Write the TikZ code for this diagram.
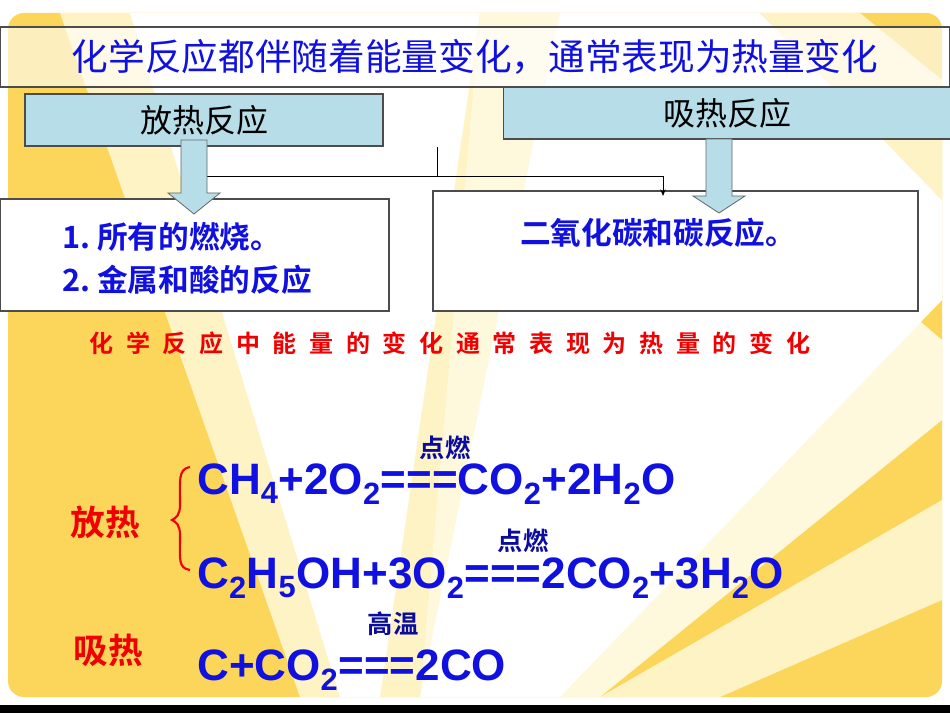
\documentclass[tikz,border=0pt]{standalone}
\usepackage{fontspec}
\setmainfont{Liberation Sans}
\newfontfamily\cjk{Noto Sans CJK SC}
\newfontfamily\cjkb{Noto Sans CJK SC Bold}
\usetikzlibrary{arrows.meta}
\definecolor{ybg}{HTML}{FBD65A}
\definecolor{ylt}{HTML}{FEF3C4}
\definecolor{cyanbox}{HTML}{B7DDE8}
\definecolor{eqblue}{HTML}{1010E0}
\definecolor{redt}{HTML}{F00000}
\begin{document}
\begin{tikzpicture}[x=0.75pt,y=-0.75pt,
  hbox/.style={draw=black!70,fill=cyanbox,line width=0.8pt},
  wbox/.style={draw=black!70,fill=white,line width=0.8pt},
  blockarrow/.style={draw=black!60,fill=cyanbox,line width=0.6pt},
  eq/.style={anchor=base west,text=eqblue,font=\bfseries\fontsize{33}{35}\selectfont,inner sep=0pt},
  cond/.style={text=eqblue!70!black,font=\cjkb\fontsize{19}{20}\selectfont,inner sep=0pt},
  redlab/.style={text=redt,font=\cjkb\fontsize{26}{27}\selectfont,inner sep=0pt}]
\useasboundingbox (0,0) rectangle (950,713);
\fill[white] (0,0) rectangle (950,713);
\fill[black] (0,705) rectangle (950,713);
% yellow panel with rays
\fill[ybg,rounded corners=12pt] (8,13) rectangle (942,697);
\fill[ylt] (60,13) -- (500,13) -- (420,697) -- (300,697) -- cycle;
\fill[white] (130,13) -- (480,13) -- (380,697) -- (340,697) -- cycle;
\fill[ylt!60!white] (480,13) -- (560,13) -- (942,340) -- (942,420) -- (600,697) -- (420,697) -- cycle;
\fill[white] (560,13) -- (760,13) -- (942,200) -- (942,300) -- (560,697) -- (420,697) -- cycle;
\fill[ylt] (760,13) -- (860,13) -- (942,80) -- (942,200) -- cycle;
\fill[ylt] (942,500) -- (942,600) -- (720,697) -- (600,697) -- cycle;
% top box
\node[draw=black!70,fill=white,fill opacity=0.6,text opacity=1,line width=0.8pt,minimum width=712.5pt,minimum height=45pt,inner sep=0pt,text=eqblue,font=\cjk\fontsize{27.5}{29}\selectfont] (top) at (475,57) {化学反应都伴随着能量变化，通常表现为热量变化};
% header boxes
\node[hbox,minimum width=268.5pt,minimum height=39pt,inner sep=0pt,font=\cjk\fontsize{24}{26}\selectfont] (exo) at (204,120) {放热反应};
\node[hbox,minimum width=335.25pt,minimum height=39pt,inner sep=0pt,font=\cjk\fontsize{24}{26}\selectfont] (endo) at (727,113) {吸热反应};
% lower boxes
\node[wbox,minimum width=291.75pt,minimum height=84pt,inner sep=0pt] (exob) at (194.5,255) {};
\node[wbox,minimum width=363.75pt,minimum height=90pt,inner sep=0pt] (endob) at (675.5,251) {};
\node[anchor=west,text=eqblue,font=\cjkb\fontsize{23}{24}\selectfont,inner sep=0pt] (e1) at (62,237) {1.~所有的燃烧。};
\node[anchor=west,text=eqblue,font=\cjkb\fontsize{23}{24}\selectfont,inner sep=0pt] (e2) at (62,280) {2.~金属和酸的反应};
\node[text=eqblue,font=\cjkb\fontsize{23}{24}\selectfont,inner sep=0pt] (n1) at (658,233) {二氧化碳和碳反应。};
% connector
\coordinate (c1) at (437,147);
\coordinate (c2) at (437,176);
\coordinate (c3) at (205,176);
\coordinate (c4) at (663,176);
\coordinate (c5) at (663,196);
\draw[black,line width=0.6pt] (c1) -- (c2);
\draw[black,line width=0.6pt,-{Stealth[length=5pt,width=4pt]}] (c3) -- (c4) -- (c5);
% block arrows
\draw[blockarrow] (181,140) -- (207,140) -- (207,193) -- (220,193) -- (194,214) -- (168,193) -- (181,193) -- cycle;
\draw[blockarrow] (706,139) -- (732,139) -- (732,196) -- (745,196) -- (719,213) -- (693,196) -- (706,196) -- cycle;
% red statement
\node[text=redt,font=\cjkb\fontsize{18}{19}\selectfont,inner sep=0pt] (st) at (450,343) {化\hspace{9.5pt}学\hspace{9.5pt}反\hspace{9.5pt}应\hspace{9.5pt}中\hspace{9.5pt}能\hspace{9.5pt}量\hspace{9.5pt}的\hspace{9.5pt}变\hspace{9.5pt}化\hspace{9.5pt}通\hspace{9.5pt}常\hspace{9.5pt}表\hspace{9.5pt}现\hspace{9.5pt}为\hspace{9.5pt}热\hspace{9.5pt}量\hspace{9.5pt}的\hspace{9.5pt}变\hspace{9.5pt}化};
% equations
\node[eq] (eq1) at (197,494) {CH\textsubscript{4}+2O\textsubscript{2}===CO\textsubscript{2}+2H\textsubscript{2}O};
\node[eq] (eq2) at (197,588) {C\textsubscript{2}H\textsubscript{5}OH+3O\textsubscript{2}===2CO\textsubscript{2}+3H\textsubscript{2}O};
\node[eq] (eq3) at (197,680) {C+CO\textsubscript{2}===2CO};
\node[cond] (d1) at (445,448) {点燃};
\node[cond] (d2) at (523,541) {点燃};
\node[cond] (d3) at (393,624) {高温};
\node[redlab] (fr) at (105,522) {放热};
\node[redlab] (xr) at (108,650) {吸热};
\draw[redt,line width=1.6pt] (190,467) .. controls (178,469) and (180,480) .. (180,505) .. controls (180,515) and (176,518) .. (172,520) .. controls (176,522) and (180,525) .. (180,535) .. controls (180,560) and (178,568) .. (190,570);
\end{tikzpicture}
\end{document}
